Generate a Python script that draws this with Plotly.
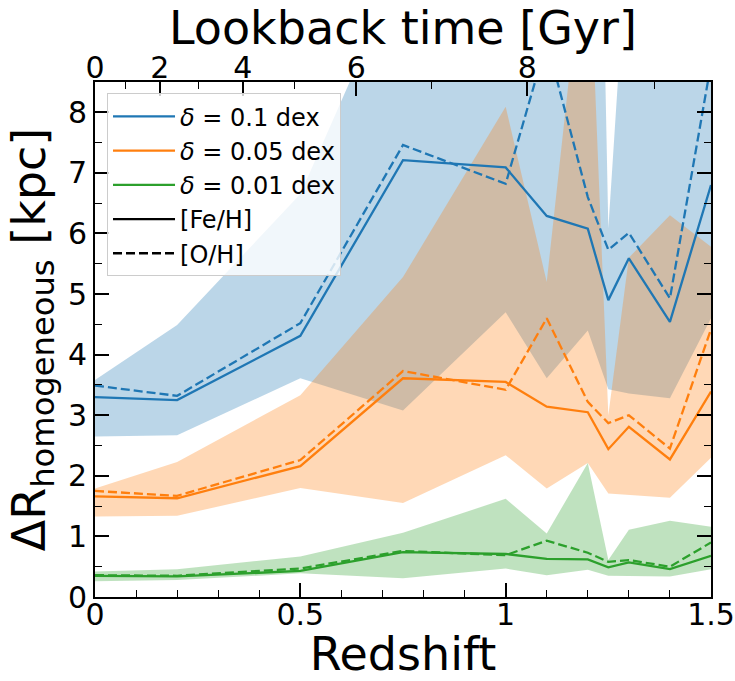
import numpy as np
import plotly.graph_objects as go

# Redshift snapshots
redshift = [0.0, 0.2, 0.5, 0.75, 1.0, 1.1, 1.2, 1.25, 1.3, 1.4, 1.5]

# delta = 0.1 dex
fe_01 = [3.30, 3.25, 4.31, 7.21, 7.09, 6.29, 6.08, 4.90, 5.59, 4.54, 6.80]
oh_01 = [3.49, 3.32, 4.52, 7.46, 6.82, 9.17, 6.60, 5.73, 6.01, 4.93, 8.80]
hi_01 = [3.58, 4.49, 6.65, 10.5, 11.0, 11.0, 23.0, 6.08, 11.3, 11.0, 11.0]
lo_01 = [2.65, 2.67, 3.61, 3.08, 4.70, 3.61, 4.40, 3.43, 3.36, 3.28, 4.60]

# delta = 0.05 dex
fe_005 = [1.66, 1.63, 2.16, 3.61, 3.55, 3.14, 3.05, 2.44, 2.81, 2.27, 3.39]
oh_005 = [1.75, 1.67, 2.26, 3.73, 3.42, 4.60, 3.22, 2.87, 3.00, 2.45, 4.42]
hi_005 = [1.79, 2.23, 3.33, 5.28, 8.09, 5.20, 11.4, 3.00, 5.60, 6.30, 5.78]
lo_005 = [1.33, 1.34, 1.80, 1.55, 2.34, 1.79, 2.21, 1.71, 1.68, 1.64, 2.30]

# delta = 0.01 dex
fe_001 = [0.35, 0.34, 0.43, 0.74, 0.71, 0.63, 0.62, 0.49, 0.57, 0.46, 0.68]
oh_001 = [0.36, 0.35, 0.47, 0.76, 0.69, 0.93, 0.73, 0.58, 0.61, 0.50, 0.90]
hi_001 = [0.42, 0.46, 0.67, 1.06, 1.62, 1.05, 2.21, 0.61, 1.11, 1.26, 1.16]
lo_001 = [0.26, 0.28, 0.39, 0.31, 0.47, 0.36, 0.45, 0.35, 0.35, 0.34, 0.46]

# Lookback-time ticks for the top axis
lookback_major = [0, 2, 4, 6, 8]
lookback_minor = [1, 3, 5, 7, 9]

BLUE, ORANGE, GREEN = "#1f77b4", "#ff7f0e", "#2ca02c"


def rgba(hex_color, alpha):
    h = hex_color.lstrip("#")
    r, g, b = (int(h[i:i + 2], 16) for i in (0, 2, 4))
    return f"rgba({r},{g},{b},{alpha})"


def lookback_time(z_max, H0=69.0, Om=0.3075):
    """Lookback time in Gyr for flat LCDM."""
    zz = np.linspace(0.0, z_max, 4001)
    E = np.sqrt(Om * (1 + zz) ** 3 + (1 - Om))
    return 977.8 / H0 * np.trapezoid(1.0 / ((1 + zz) * E), zz)


z_grid = np.linspace(0.0, 2.0, 2001)
t_grid = np.array([lookback_time(z) for z in z_grid])
z_of_major = np.interp(lookback_major, t_grid, z_grid)
z_of_minor = np.interp(lookback_minor, t_grid, z_grid)

fig = go.Figure()

# Scatter bands
for hi, lo, col in [(hi_01, lo_01, BLUE), (hi_005, lo_005, ORANGE), (hi_001, lo_001, GREEN)]:
    fig.add_trace(go.Scatter(
        x=redshift + redshift[::-1], y=hi + lo[::-1],
        fill="toself", fillcolor=rgba(col, 0.3), mode="lines",
        line=dict(width=0, color=rgba(col, 0)), showlegend=False, hoverinfo="skip"))

# Median relations
for fe, oh, col in [(fe_01, oh_01, BLUE), (fe_005, oh_005, ORANGE), (fe_001, oh_001, GREEN)]:
    fig.add_trace(go.Scatter(x=redshift, y=fe, mode="lines",
                             line=dict(color=col, width=2.3), showlegend=False))
    fig.add_trace(go.Scatter(x=redshift, y=oh, mode="lines",
                             line=dict(color=col, width=2.3, dash="9px,4px"), showlegend=False))

# Legend keys
legend_keys = [
    ("<i>δ</i> = 0.1 dex", BLUE, "solid"),
    ("<i>δ</i> = 0.05 dex", ORANGE, "solid"),
    ("<i>δ</i> = 0.01 dex", GREEN, "solid"),
    ("[Fe/H]", "black", "solid"),
    ("[O/H]", "black", "9px,4px"),
]
for i, (name, col, dash) in enumerate(legend_keys):
    fig.add_trace(go.Scatter(x=[None], y=[None], mode="lines", name=name,
                             legendgroup=f"g{i}",
                             line=dict(color=col, width=2.3, dash=dash)))

# Invisible trace anchoring the top axis
fig.add_trace(go.Scatter(x=[None], y=[None], xaxis="x2", showlegend=False, hoverinfo="skip"))

tick_font = dict(family="DejaVu Sans", size=30, color="black")
title_font = dict(family="DejaVu Sans", size=46, color="black")

fig.update_layout(
    width=735, height=681,
    margin=dict(l=95, r=24, t=82, b=84),
    plot_bgcolor="white", paper_bgcolor="white",
    font=dict(family="DejaVu Sans", color="black"),
    legend=dict(x=0.0195, y=0.978, xanchor="left", yanchor="top",
                bgcolor="rgba(255,255,255,0.8)", bordercolor="rgb(204,204,204)",
                borderwidth=1, font=dict(family="DejaVu Sans", size=24, color="black"),
                tracegroupgap=0, itemwidth=62),
    xaxis=dict(
        range=[0, 1.5], tickmode="array", tickvals=[0, 0.5, 1, 1.5],
        ticktext=["0", "0.5", "1", "1.5"], automargin=False,
        ticks="inside", ticklen=14, tickwidth=1.6, tickcolor="black",
        minor=dict(dtick=0.1, ticks="inside", ticklen=7, tickwidth=1.2, tickcolor="black"),
        showline=True, linecolor="black", linewidth=2, mirror=True,
        showgrid=False, zeroline=False, tickfont=tick_font, ticklabelstandoff=-10,
        title=dict(text="Redshift", font=title_font, standoff=12)),
    xaxis2=dict(
        overlaying="x", side="top", anchor="y", range=[0, 1.5], automargin=False,
        tickmode="array", tickvals=list(z_of_major), ticktext=[str(t) for t in lookback_major],
        ticks="inside", ticklen=14, tickwidth=1.6, tickcolor="black",
        minor=dict(tickmode="array", tickvals=list(z_of_minor), ticks="inside",
                   ticklen=7, tickwidth=1.2, tickcolor="black"),
        showline=False, showgrid=False, zeroline=False, tickfont=tick_font,
        ticklabelstandoff=-3),
    yaxis=dict(
        range=[0, 8.5], tick0=0, dtick=1, automargin=False,
        ticks="inside", ticklen=14, tickwidth=1.6, tickcolor="black",
        minor=dict(dtick=0.5, ticks="inside", ticklen=7, tickwidth=1.2, tickcolor="black"),
        showline=True, linecolor="black", linewidth=2, mirror="ticks",
        showgrid=False, zeroline=False, tickfont=tick_font,
        title=dict(text="ΔR<sub>homogeneous</sub> [kpc]", font=title_font, standoff=8)),
)

# Top-axis title
fig.add_annotation(text="Lookback time [Gyr]", xref="paper", yref="paper",
                   x=0.5, y=1 + (82 - 28) / 515, xanchor="center", yanchor="middle",
                   showarrow=False, font=title_font)

fig.write_html("out.html")
